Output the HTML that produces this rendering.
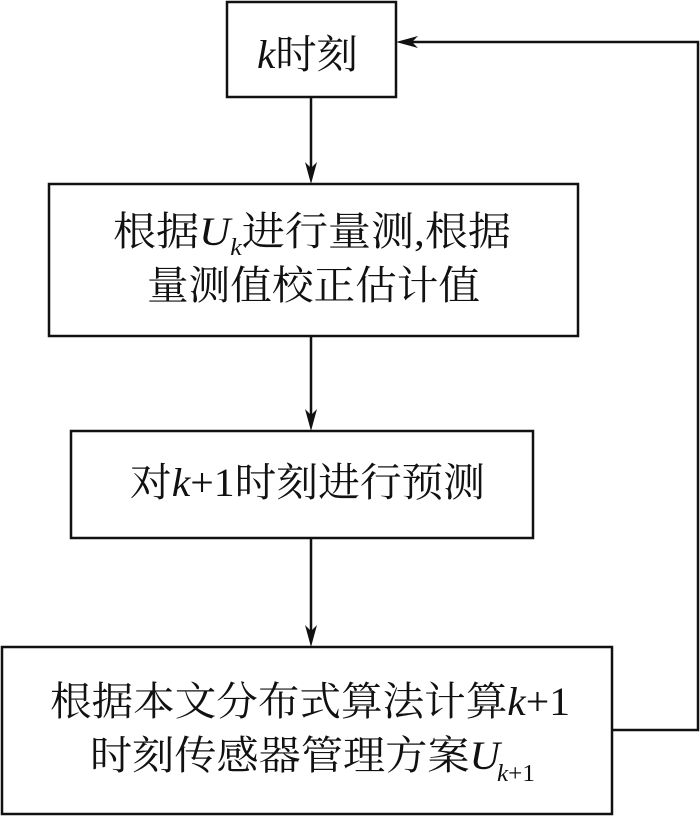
<!DOCTYPE html>
<html><head><meta charset="utf-8"><style>
html,body{margin:0;padding:0;background:#fff;}
svg{display:block;}
</style></head><body>
<svg width="700" height="816" viewBox="0 0 700 816" xmlns="http://www.w3.org/2000/svg">
<g fill="none" stroke="#111" stroke-width="2.5">
<rect x="227" y="2" width="169" height="95"/>
<rect x="49" y="184" width="529" height="152"/>
<rect x="71" y="431" width="462" height="107"/>
<rect x="2" y="647" width="610" height="167"/>
<line x1="311" y1="97" x2="311" y2="172"/>
<line x1="311" y1="336" x2="311" y2="420"/>
<line x1="311" y1="538" x2="311" y2="636"/>
<polyline points="612,730 698,730 698,42 408,42"/>
</g>
<g fill="#111">
<polygon points="305,162 311,184 317,162 311,168"/>
<polygon points="305,409 311,431 317,409 311,415"/>
<polygon points="305,625 311,647 317,625 311,631"/>
<polygon points="418,36 396,42 418,48 412,42"/>
</g>
<g fill="#111" font-family="'Liberation Serif','Noto Serif CJK SC','Noto Sans CJK SC',serif" font-size="40">
<text x="257" y="68" textLength="101" lengthAdjust="spacingAndGlyphs"><tspan font-style="italic">k</tspan>时刻</text>
<text x="113" y="245" textLength="398" lengthAdjust="spacingAndGlyphs">根据<tspan font-style="italic">U</tspan><tspan font-style="italic" font-size="24" dy="10">k</tspan><tspan dy="-10">进行量测</tspan>,根据</text>
<text x="147" y="299" textLength="333" lengthAdjust="spacingAndGlyphs">量测值校正估计值</text>
<text x="130" y="496" textLength="355" lengthAdjust="spacingAndGlyphs">对<tspan font-style="italic">k</tspan>+1时刻进行预测</text>
<text x="50" y="715" textLength="520" lengthAdjust="spacingAndGlyphs">根据本文分布式算法计算<tspan font-style="italic">k</tspan>+1</text>
<text x="90" y="769" textLength="410" lengthAdjust="spacingAndGlyphs">时刻传感器管理方案<tspan font-style="italic">U</tspan></text>
<text x="497" y="781" font-size="24" textLength="38" lengthAdjust="spacingAndGlyphs"><tspan font-style="italic">k</tspan>+1</text>
</g>
</svg>
</body></html>
